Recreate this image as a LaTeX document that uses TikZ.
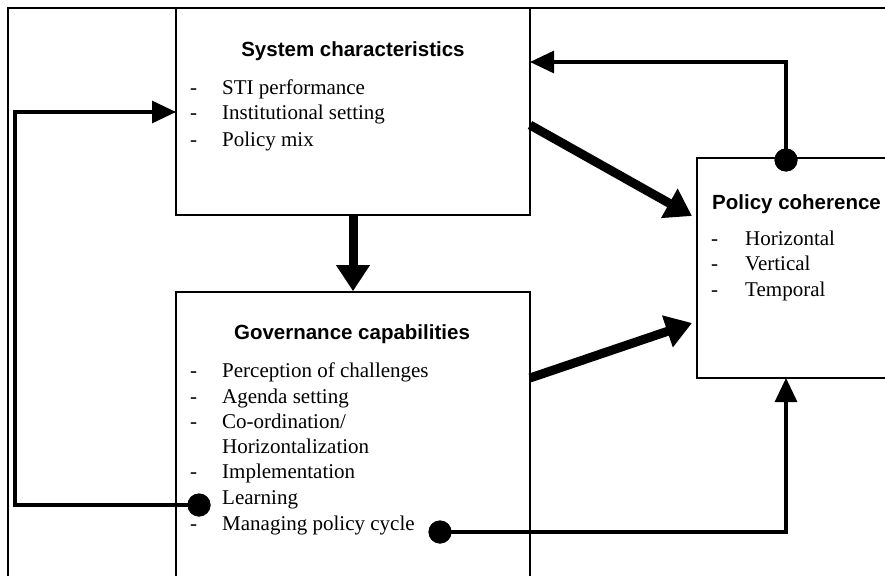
\documentclass[tikz,border=0pt]{standalone}
\usepackage{fontspec}
\setmainfont{Liberation Serif}
\newfontfamily\titlefont{Liberation Sans}
\usetikzlibrary{arrows.meta,calc}
\tikzset{
  box/.style={draw=black,line width=1.6pt,fill=white,inner sep=0pt},
  boxtitle/.style={font=\titlefont\bfseries\fontsize{20.5}{24}\selectfont,inner sep=0pt,anchor=base},
  item/.style={font=\fontsize{21}{25}\selectfont,inner sep=0pt,anchor=base west},
  thin/.style={line width=3.2pt,-{Triangle[length=24pt,width=22pt]}},
  thick/.style={line width=9pt,-{Triangle[length=26pt,width=32pt]}},
  dot/.style={circle,fill=black,minimum size=23pt,inner sep=0pt}
}
\begin{document}
\begin{tikzpicture}[x=1pt,y=-1pt]
\useasboundingbox (0,0) rectangle (885,575);
\clip (0,0) rectangle (885,575);
\fill[white] (0,0) rectangle (885,575);
% outer frame
\draw[line width=1.6pt] (8,620) -- (8,8) -- (920,8);
% boxes
\node[box,minimum width=354pt,minimum height=207pt] (sys) at (353,111.5) {};
\node[box,minimum width=354pt,minimum height=320pt] (gov) at (353,452) {};
\node[box,minimum width=230pt,minimum height=220pt] (pol) at (812,268) {};
% texts: system
\node[boxtitle] (systitle) at (353,57) {System characteristics};
\foreach \y/\t [count=\i] in {95/STI performance,120/Institutional setting,146/Policy mix}{
  \node[item] (sysd\i) at (190,\y) {-};
  \node[item] (syst\i) at (222,\y) {\t};
}
% texts: governance
\node[boxtitle] (govtitle) at (352,339) {Governance capabilities};
\foreach \y [count=\i] in {377,403,428,478,530}{
  \node[item] (govd\i) at (190,\y) {-};
}
\node[item] (govt1) at (222,377) {Perception of challenges};
\node[item] (govt2) at (222,403) {Agenda setting};
\node[item] (govt3) at (222,428) {Co-ordination/};
\node[item] (govt4) at (222,453) {Horizontalization};
\node[item] (govt5) at (222,478) {Implementation};
\node[item] (govt6) at (222,504) {Learning};
\node[item] (govt7) at (222,530) {Managing policy cycle};
% texts: policy coherence
\node[boxtitle,anchor=base west] (poltitle) at (712,209) {Policy coherence};
\foreach \y/\t [count=\i] in {245/Horizontal,270/Vertical,296/Temporal}{
  \node[item] (pold\i) at (711,\y) {-};
  \node[item] (polt\i) at (745,\y) {\t};
}
% dots
\node[dot] (dpol) at (786,160) {};
\node[dot] (dlearn) at (199,505) {};
\node[dot] (dmanage) at (440,532) {};
% named points
\coordinate (sysE1) at (530,62);
\coordinate (sysW) at (176,112);
\coordinate (polS) at (786,378);
\coordinate (sysE2) at (530,125);
\coordinate (polW1) at (692,216);
\coordinate (govE) at (530,378);
\coordinate (polW2) at (692,323);
% thin connectors
\draw[thin] (dpol.center) |- (sysE1);
\draw[thin] (dlearn.center) -- (15,505) |- (sysW);
\draw[thin] (dmanage.center) -| (polS);
% thick connectors
\draw[thick] (sys.south) -- (gov.north);
\draw[thick] (sysE2) -- (polW1);
\draw[thick] (govE) -- (polW2);
% redraw dots on top
\node[dot] at (dpol) {};
\node[dot] at (dlearn) {};
\node[dot] at (dmanage) {};
\end{tikzpicture}
\end{document}
